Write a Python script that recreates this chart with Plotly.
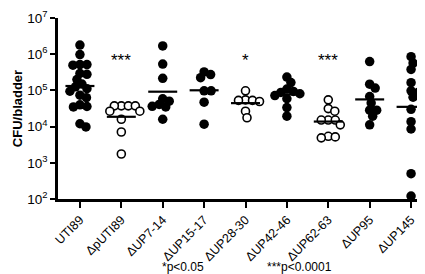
import numpy as np
import plotly.graph_objects as go

categories = ["UTI89", "ΔpUTI89", "ΔUP7-14", "ΔUP15-17", "ΔUP28-30",
              "ΔUP42-46", "ΔUP62-63", "ΔUP95", "ΔUP145"]
open_marker = [False, True, False, False, True, False, True, False, False]

# CFU/bladder values
uti89 = [1.8e6, 9.8e5, 5.2e5, 5.2e5, 5.0e5, 2.8e5, 2.95e5, 2.0e5, 1.5e5, 1.26e5,
         1.12e5, 9.5e4, 7.4e4, 6.3e4, 3.6e4, 3.5e4, 4.0e4, 1.2e4, 9.8e3]
p_uti89 = [3.75e4, 3.75e4, 3.75e4, 3.75e4, 2.67e4, 2.67e4, 1.6e4, 7.1e3, 1.75e3]
up7_14 = [1.7e6, 5.35e5, 2.16e5, 5.9e4, 5.05e4, 4.1e4, 3.65e4, 3.5e4, 1.6e4]
up15_17 = [3.25e5, 2.75e5, 2.25e5, 9.8e4, 9.8e4, 4.75e4, 1.17e4]
up28_30 = [9.8e4, 5.5e4, 5.3e4, 5.3e4, 4.95e4, 2.67e4, 1.76e4]
up42_46 = [2.35e5, 1.65e5, 1.09e5, 9.4e4, 8.8e4, 8.1e4, 7.2e4, 5.9e4, 3.36e4, 1.95e4]
up62_63 = [5.5e4, 3.15e4, 2.67e4, 1.52e4, 1.52e4, 1.52e4, 1.12e4, 5.4e3, 5.2e3, 4.9e3]
up95 = [6.3e5, 1.49e5, 1.16e5, 6.8e4, 4.5e4, 2.85e4, 2.85e4, 1.95e4, 1.12e4]
up145 = [8.6e5, 5.7e5, 3.8e5, 1.64e5, 9.8e4, 8.8e4, 6.5e4, 3.0e4, 1.37e4,
         8.6e3, 5.0e2, 1.2e2]
groups = [uti89, p_uti89, up7_14, up15_17, up28_30, up42_46, up62_63, up95, up145]

sig_labels = ["", "***", "", "", "*", "", "***", "", ""]
footnotes = ["*p<0.05", "***p<0.0001"]
y_tick_exps = [2, 3, 4, 5, 6, 7]

# approximate pixel scales used only for dot placement (swarm spreading)
PX_CAT = 41.4
PX_DEC = 37.1
DIAM = 6.8


def swarm(vals):
    ly = np.log10(np.array(vals, dtype=float))
    order = np.argsort(-ly)
    placed = []
    offs = np.zeros(len(vals))
    for i in order:
        y = ly[i] * PX_DEC
        cand = [0.0]
        for k in range(1, 60):
            cand += [k * 0.5, -k * 0.5]
        for c in cand:
            if all((c - px) ** 2 + (y - py) ** 2 >= DIAM ** 2 for px, py in placed):
                placed.append((c, y))
                offs[i] = c / PX_CAT
                break
    return offs


fig = go.Figure()
for gi, vals in enumerate(groups):
    offs = swarm(vals)
    xs = gi + offs
    if open_marker[gi]:
        marker = dict(size=8, color="white", line=dict(color="black", width=1.6))
    else:
        marker = dict(size=9.5, color="black", line=dict(width=0))
    fig.add_trace(go.Scatter(x=xs, y=vals, mode="markers", marker=marker,
                             showlegend=False, hoverinfo="y"))
    gm = 10 ** np.mean(np.log10(vals))
    fig.add_trace(go.Scatter(x=[gi - 0.35, gi + 0.35], y=[gm, gm], mode="lines",
                             line=dict(color="black", width=2.2),
                             showlegend=False, hoverinfo="skip"))
    if sig_labels[gi]:
        fig.add_annotation(x=gi, y=5.84, text=sig_labels[gi],
                           showarrow=False, font=dict(size=17, color="black"),
                           xref="x", yref="y", yanchor="middle")

fig.add_annotation(x=0.272, y=-0.375, xref="paper", yref="paper", text=footnotes[0],
                   showarrow=False, font=dict(size=12, color="black"),
                   xanchor="left", yanchor="middle")
fig.add_annotation(x=0.552, y=-0.375, xref="paper", yref="paper", text=footnotes[1],
                   showarrow=False, font=dict(size=12, color="black"),
                   xanchor="left", yanchor="middle")

fig.update_layout(
    width=425, height=274,
    margin=dict(l=50, r=0, t=5, b=83),
    plot_bgcolor="white", paper_bgcolor="white",
    font=dict(family="Arial, Liberation Sans, sans-serif", color="black"),
    xaxis=dict(range=[-0.53, 8.53], tickmode="array",
               tickvals=list(range(len(categories))), ticktext=categories,
               tickangle=-45, showline=True, linecolor="black", linewidth=2.5,
               ticks="outside", ticklen=6, tickwidth=2, tickcolor="black",
               showgrid=False, zeroline=False, tickfont=dict(size=12.5)),
    yaxis=dict(type="log", range=[1.999, 7.003], tickmode="array",
               tickvals=[10 ** e for e in y_tick_exps],
               ticktext=["10<sup>%d</sup>" % e for e in y_tick_exps],
               showline=True, linecolor="black", linewidth=2.5,
               ticks="outside", ticklen=5, tickwidth=2, tickcolor="black",
               showgrid=False, zeroline=False, tickfont=dict(size=13.5),
               ticklabeloverflow="allow",
               title=dict(text="<b>CFU/bladder</b>", font=dict(size=13), standoff=2)),
)

fig.write_html("out.html")
